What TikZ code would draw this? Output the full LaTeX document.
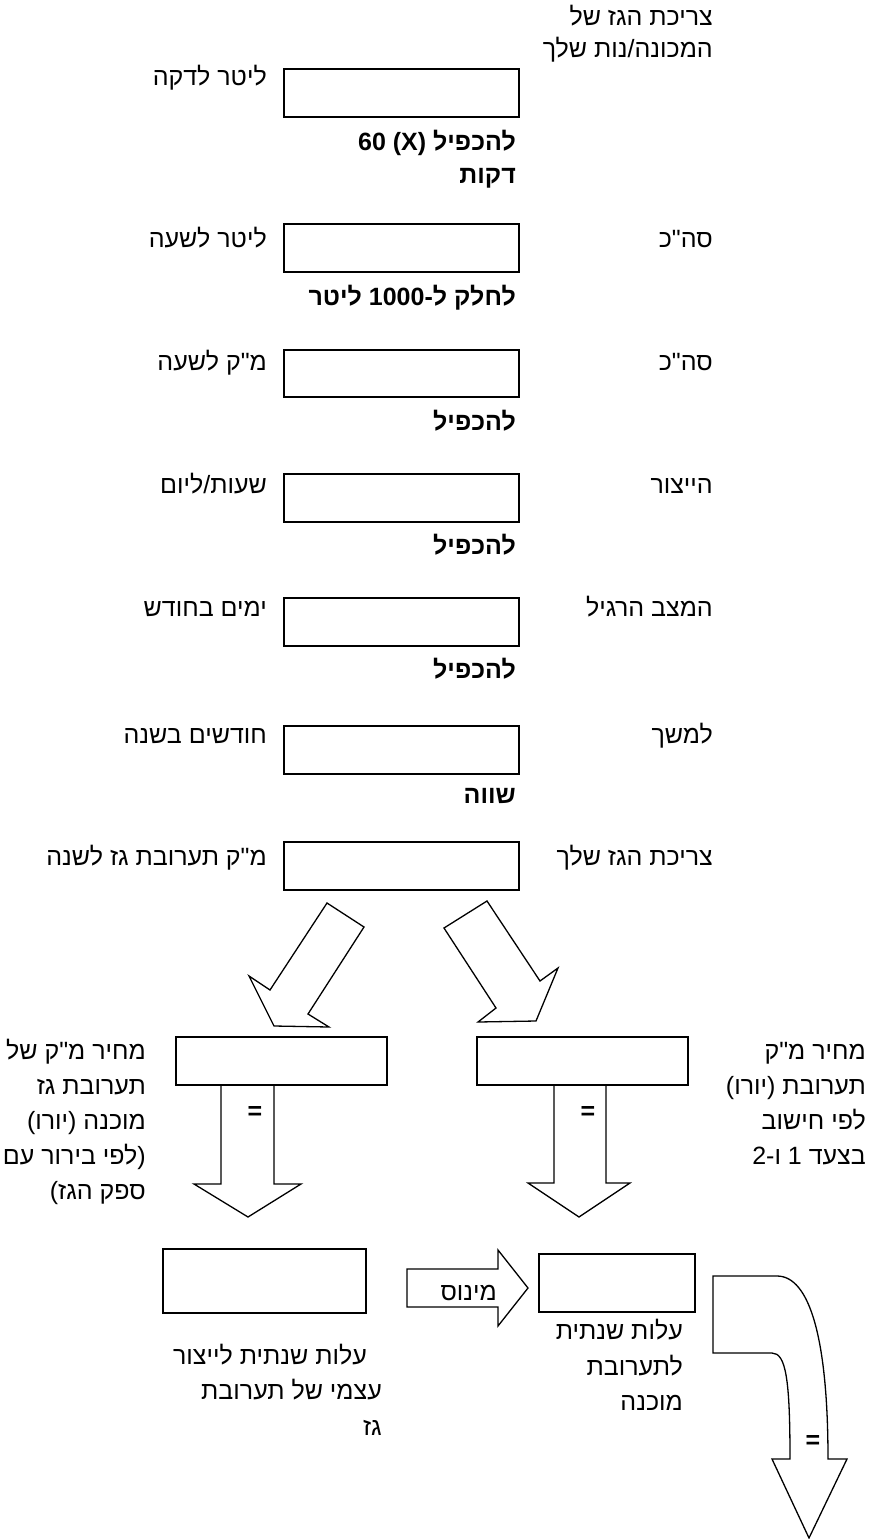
\documentclass[tikz,border=0pt]{standalone}
\usepackage{fontspec}
\usetikzlibrary{fit}
\newfontfamily\hebfont[Script=Hebrew]{Liberation Sans}
\TeXXeTstate=1
\newcommand\rtl[1]{\beginR #1\endR}
\begin{document}
\begin{tikzpicture}[x=1pt,y=-1pt,
  box/.style={draw,line width=1.3pt,fill=white,inner sep=0pt},
  lbl/.style={font=\hebfont\fontsize{25}{30}\selectfont,inner sep=0pt,anchor=base east},
  blbl/.style={font=\hebfont\bfseries\fontsize{25}{30}\selectfont,inner sep=0pt,anchor=base east},
  eq/.style={font=\hebfont\bfseries\fontsize{25}{30}\selectfont,inner sep=0pt,anchor=center},
  arr/.style={draw,line width=1.3pt,fill=white,line join=miter}]
\useasboundingbox (0,0) rectangle (873,1539);
% top boxes
\foreach \n/\t/\b in {b1/69/117,b2/224/272,b3/350/397,b4/474/522,b5/598/646,b6/726/774,b7/842/890}{
  \node[box,fit={(284,\t) (519,\b)}] (\n) {};
}
% labels
\node[lbl] (t1) at (713,25) {\rtl{צריכת הגז של}};
\node[lbl] (t2) at (713,57) {\rtl{המכונה/נות שלך}};
\node[lbl] (l1) at (267,85) {\rtl{ליטר לדקה}};
\node[lbl] (l2) at (267,247) {\rtl{ליטר לשעה}};
\node[lbl] (l3) at (267,370) {\rtl{מ"ק לשעה}};
\node[lbl] (l4) at (267,493) {\rtl{שעות/ליום}};
\node[lbl] (l5) at (267,616) {\rtl{ימים בחודש}};
\node[lbl] (l6) at (267,743) {\rtl{חודשים בשנה}};
\node[lbl] (l7) at (267,865) {\rtl{מ"ק תערובת גז לשנה}};
\node[lbl] (r2) at (713,247) {\rtl{סה"כ}};
\node[lbl] (r3) at (713,370) {\rtl{סה"כ}};
\node[lbl] (r4) at (713,493) {\rtl{הייצור}};
\node[lbl] (r5) at (713,616) {\rtl{המצב הרגיל}};
\node[lbl] (r6) at (713,743) {\rtl{למשך}};
\node[lbl] (r7) at (713,865) {\rtl{צריכת הגז שלך}};
\node[blbl] (o1) at (516,150) {\rtl{להכפיל (X) 60}};
\node[blbl] (o1b) at (516,183) {\rtl{דקות}};
\node[blbl] (o2) at (516,305) {\rtl{לחלק ל-1000 ליטר}};
\node[blbl] (o3) at (516,430) {\rtl{להכפיל}};
\node[blbl] (o4) at (516,554) {\rtl{להכפיל}};
\node[blbl] (o5) at (516,678) {\rtl{להכפיל}};
\node[blbl] (o6) at (516,803) {\rtl{שווה}};
% diagonal arrows
\draw[arr] (327,903) -- (364,927) -- (308,1014) -- (329,1027) -- (274,1026) -- (249,976) -- (270,990) -- cycle;
\draw[arr] (487,901) -- (540,981) -- (558,968) -- (536,1021) -- (478,1022) -- (496,1008) -- (444,928) -- cycle;
% down arrows
\draw[arr] (221,1085) -- (221,1184) -- (194,1184) -- (248,1217) -- (301,1184) -- (274,1184) -- (274,1085) -- cycle;
\draw[arr] (554,1085) -- (554,1183) -- (528,1183) -- (579,1217) -- (630,1183) -- (606,1183) -- (606,1085) -- cycle;
% middle boxes
\node[box,fit={(176,1037) (387,1085)}] (mL) {};
\node[box,fit={(477,1037) (688,1085)}] (mR) {};
\node[eq] (e1) at (255,1113) {=};
\node[eq] (e2) at (588,1113) {=};
% side texts
\node[lbl] (a1) at (146,1059) {\rtl{מחיר מ"ק של}};
\node[lbl] (a2) at (146,1094) {\rtl{תערובת גז}};
\node[lbl] (a3) at (146,1129) {\rtl{מוכנה (יורו)}};
\node[lbl] (a4) at (146,1164) {\rtl{(לפי בירור עם}};
\node[lbl] (a5) at (146,1199) {\rtl{ספק הגז)}};
\node[lbl] (c1) at (866,1059) {\rtl{מחיר מ"ק}};
\node[lbl] (c2) at (866,1094) {\rtl{תערובת (יורו)}};
\node[lbl] (c3) at (866,1129) {\rtl{לפי חישוב}};
\node[lbl] (c4) at (866,1164) {\rtl{בצעד 1 ו-2}};
% bottom
\node[box,fit={(163,1249) (366,1313)}] (bL) {};
\node[box,fit={(539,1254) (695,1312)}] (bR) {};
\draw[arr] (407,1269) -- (498,1269) -- (498,1250) -- (528,1288) -- (498,1326) -- (498,1307) -- (407,1307) -- cycle;
\node[lbl] (m) at (497,1300) {\rtl{מינוס}};
\draw[arr] (713,1276) -- (777,1276) .. controls (810,1276) and (828,1340) .. (828,1459) -- (847,1459) -- (809,1538) -- (772,1459) -- (790,1459) .. controls (790,1380) and (786,1353) .. (772,1353) -- (713,1353) -- cycle;
\node[eq] (e3) at (813,1442) {=};
\node[lbl] (d1) at (367,1364) {\rtl{עלות שנתית לייצור}};
\node[lbl] (d2) at (382,1399) {\rtl{עצמי של תערובת}};
\node[lbl] (d3) at (382,1435) {\rtl{גז}};
\node[lbl] (f1) at (683,1339) {\rtl{עלות שנתית}};
\node[lbl] (f2) at (683,1375) {\rtl{לתערובת}};
\node[lbl] (f3) at (683,1410) {\rtl{מוכנה}};
\end{tikzpicture}
\end{document}
